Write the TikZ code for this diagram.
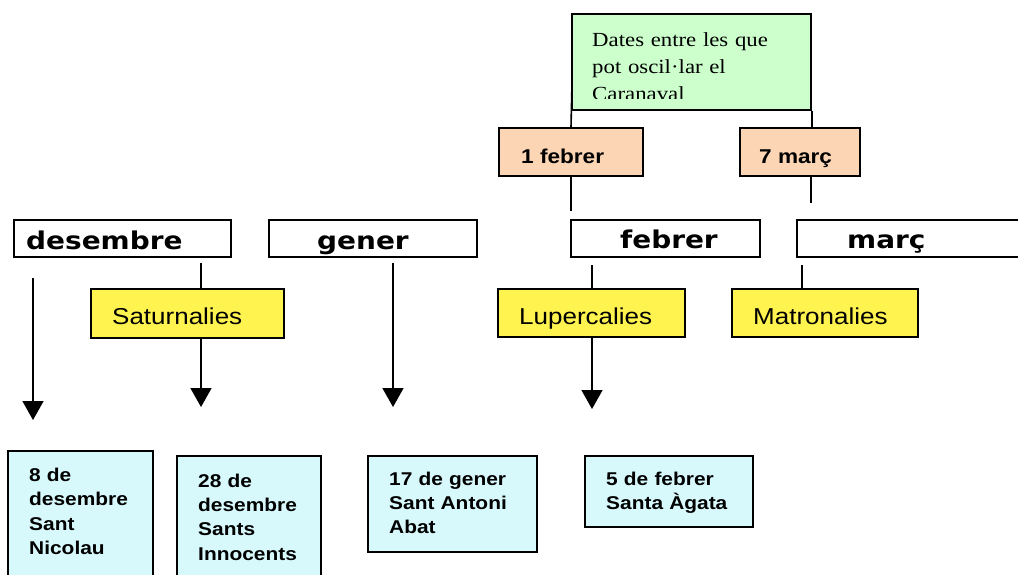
\documentclass[tikz,border=0pt]{standalone}
\usepackage{fontspec}
\setmainfont{Liberation Sans}[FakeStretch=1.13]
\newfontfamily\serifft{Liberation Serif}[FakeStretch=1.14]
\newfontfamily\monthft{DejaVu Sans}[FakeStretch=1.14]
\usetikzlibrary{arrows.meta}
\definecolor{greenbox}{HTML}{CCFFCC}
\definecolor{orangebox}{HTML}{FCD5B4}
\definecolor{yellowbox}{HTML}{FFF34F}
\definecolor{cyanbox}{HTML}{D8F9FC}
\tikzset{
  box/.style={draw=black, line width=1.6pt, rectangle, inner sep=0pt},
  txt/.style={inner sep=0pt, anchor=base west},
  conn/.style={line width=1.6pt},
  arr/.style={line width=1.6pt, -{Triangle[width=21pt,length=19pt]}},
  monthtxt/.style={txt, font=\monthft\bfseries\fontsize{24.5}{24.5}\selectfont},
  festtxt/.style={txt, font=\fontsize{23}{23}\selectfont},
  datetxt/.style={txt, font=\bfseries\fontsize{20}{20}\selectfont},
  daytxt/.style={inner sep=0pt, anchor=base west, text width=150pt, align=left, font=\bfseries\fontsize{18.5}{24.2}\selectfont},
}
\begin{document}
\begin{tikzpicture}[x=1pt,y=-1pt]
\clip (0,0) rectangle (1018,574);
\fill[white] (0,0) rectangle (1018,574);

% green box
\node[box, fill=greenbox, minimum width=239pt, minimum height=96pt] (green) at (691.5,62) {};
\begin{scope}
\clip (572,14) rectangle (811,98);
\node[inner sep=0pt, anchor=base west, text width=220pt, align=left,
  font=\serifft\fontsize{20}{26.7}\selectfont] (gtxt) at (592,46.7)
  {Dates entre les que\\pot oscil·lar el\\Caranaval};
\end{scope}

% orange boxes
\node[box, fill=orangebox, minimum width=144pt, minimum height=48pt] (feb1) at (571,152) {};
\node[datetxt] (feb1t) at (521,163) {1 febrer};
\node[box, fill=orangebox, minimum width=120pt, minimum height=48pt] (mar7) at (800,152) {};
\node[datetxt] (mar7t) at (759,163) {7 març};

\coordinate (gl) at (572,83);
\draw[conn] (gl) -- (feb1.north);
\draw[conn] (green.south east) -- (green.south east |- mar7.north);

% month boxes
\node[box, minimum width=217pt, minimum height=37pt] (des) at (122.5,238.5) {};
\node[monthtxt] (dest) at (26,249) {desembre};
\node[box, minimum width=208pt, minimum height=37pt] (gen) at (373,238.5) {};
\node[monthtxt] (gent) at (317,249) {gener};
\node[box, minimum width=189pt, minimum height=37pt] (feb) at (665.5,238.5) {};
\node[monthtxt] (febt) at (620,248.5) {febrer};
\node[box, minimum width=240pt, minimum height=37pt] (mar) at (917,238.5) {};
\node[monthtxt] (mart) at (847,248.5) {març};

\coordinate (feb1end) at (571,211);
\coordinate (mar7end) at (811,203);
\draw[conn] (feb1.south) -- (feb1end);
\draw[conn] (mar7.south -| mar7end) -- (mar7end);

% festival boxes
\node[box, fill=yellowbox, minimum width=193pt, minimum height=49pt] (sat) at (187.5,313.5) {};
\node[festtxt] (satt) at (112,324) {Saturnalies};
\node[box, fill=yellowbox, minimum width=187pt, minimum height=48pt] (lup) at (591.5,313) {};
\node[festtxt] (lupt) at (519,324) {Lupercalies};
\node[box, fill=yellowbox, minimum width=186pt, minimum height=48pt] (mat) at (825,313) {};
\node[festtxt] (matt) at (753,324) {Matronalies};

\coordinate (satstart) at (201,263);
\coordinate (lupstart) at (592,265);
\coordinate (matstart) at (802,265);
\draw[conn] (satstart) -- (satstart |- sat.north);
\draw[conn] (lupstart) -- (lupstart |- lup.north);
\draw[conn] (matstart) -- (matstart |- mat.north);

% arrows
\coordinate (desstart) at (33,278);
\coordinate (destip) at (33,420);
\coordinate (sattip) at (201,407);
\coordinate (genstart) at (393,263);
\coordinate (gentip) at (393,407);
\coordinate (luptip) at (592,409);
\draw[arr] (desstart) -- (destip);
\draw[arr] (sat.south -| sattip) -- (sattip);
\draw[arr] (genstart) -- (gentip);
\draw[arr] (lup.south -| luptip) -- (luptip);

% date boxes
\node[box, fill=cyanbox, minimum width=145pt, minimum height=129pt] (d1) at (80.5,515.5) {};
\node[daytxt] (d1t) at (29,481.7) {8 de\\desembre\\Sant\\Nicolau};
\node[box, fill=cyanbox, minimum width=144pt, minimum height=129pt] (d2) at (249,520.5) {};
\node[daytxt] (d2t) at (198,487.5) {28 de\\desembre\\Sants\\Innocents};
\node[box, fill=cyanbox, minimum width=169pt, minimum height=96pt] (d3) at (452.5,504) {};
\node[daytxt] (d3t) at (389,485) {17 de gener\\Sant Antoni\\Abat};
\node[box, fill=cyanbox, minimum width=168pt, minimum height=71pt] (d4) at (669,491.5) {};
\node[daytxt] (d4t) at (606,485) {5 de febrer\\Santa Àgata};
\end{tikzpicture}
\end{document}
